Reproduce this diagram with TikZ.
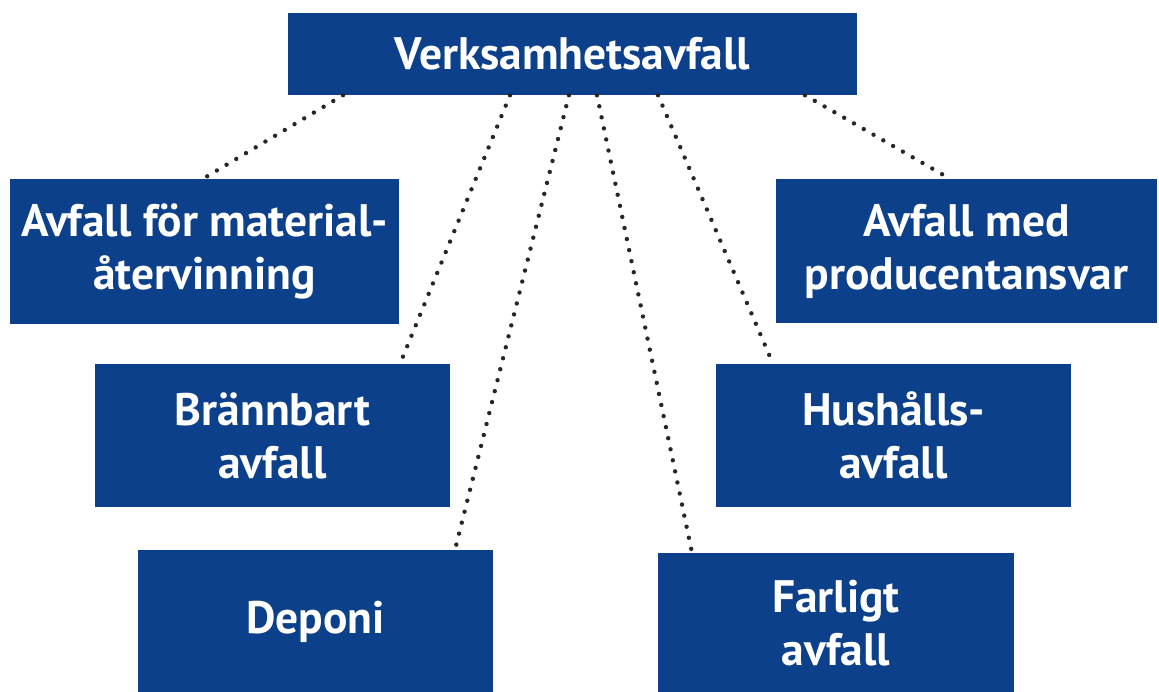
\documentclass[tikz,border=0pt]{standalone}
\usepackage{fontspec}
\setmainfont{PT Sans}
\usepackage{tikz}

\definecolor{boxblue}{RGB}{12,64,138}

\begin{document}
\begin{tikzpicture}[x=1pt,y=-1pt,
	wastebox/.style={rectangle,fill=boxblue,text=white,inner sep=0pt,align=center,
		font=\fontsize{45.5}{53}\selectfont\bfseries},
	dotline/.style={line width=4.4pt,line cap=round,dash pattern=on 0pt off 11.3pt,color=black!85}]

	\useasboundingbox (0,0) rectangle (1159,692);

	\node (top)[wastebox,minimum width=569pt,minimum height=82pt] at (572.5,54){Verksamhetsavfall};

	\node (mat)[wastebox,minimum width=389pt,minimum height=145pt] at (204.5,251.5){Avfall för material-\\återvinning};
	\node (prod)[wastebox,minimum width=381pt,minimum height=144pt] at (966.5,251){Avfall med\\producentansvar};
	\node (brann)[wastebox,minimum width=355pt,minimum height=143pt] at (272.5,435.5){Brännbart\\avfall};
	\node (hush)[wastebox,minimum width=355pt,minimum height=143pt] at (893.5,435.5){Hushålls-\\avfall};
	\node (dep)[wastebox,minimum width=355pt,minimum height=143pt] at (315.5,621.5){Deponi};
	\node (farl)[wastebox,minimum width=356pt,minimum height=140pt] at (836,623){Farligt\\avfall};

	% dotted connectors from the top box
	\draw [dotline] ([xshift=-229.5pt]top.south) to ([xshift=-1.5pt]mat.north);
	\draw [dotline] ([xshift=-62.5pt]top.south) to ([xshift=127.5pt]brann.north);
	\draw [dotline] ([xshift=-3.5pt]top.south) to ([xshift=139.5pt]dep.north);
	\draw [dotline] ([xshift=24.5pt]top.south) to ([xshift=-144pt]farl.north);
	\draw [dotline] ([xshift=85.5pt]top.south) to ([xshift=-120.5pt]hush.north);
	\draw [dotline] ([xshift=232.5pt]top.south) to ([xshift=-16.5pt]prod.north);

\end{tikzpicture}
\end{document}
